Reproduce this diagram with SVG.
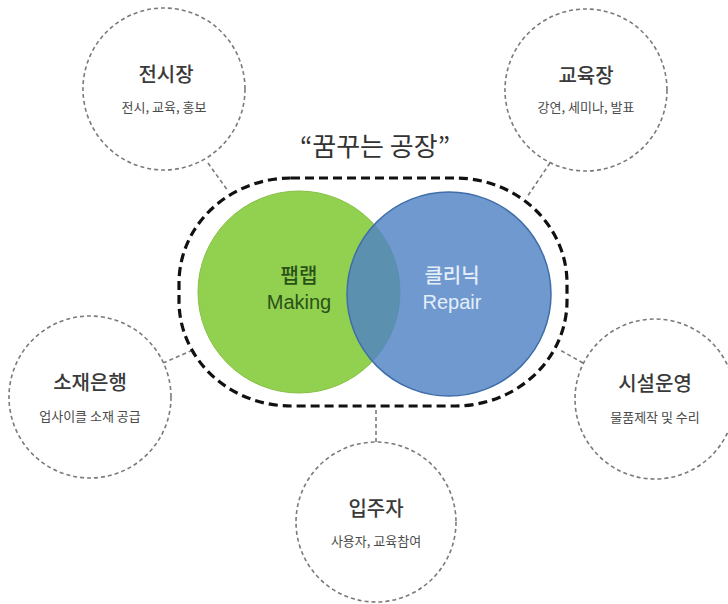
<svg xmlns="http://www.w3.org/2000/svg" width="728" height="604" viewBox="0 0 728 604">
<style>
.sat{fill:#fff;stroke:#7a7a7a;stroke-width:1.6;stroke-dasharray:4 3}
.con{fill:none;stroke:#7a7a7a;stroke-width:1.6;stroke-dasharray:4 3}
.t1{font-family:"Noto Sans CJK KR","Noto Sans",sans-serif;font-size:20px;font-weight:500;fill:#3a3a3a;text-anchor:middle}
.t2{font-family:"Noto Sans CJK KR","Noto Sans",sans-serif;font-size:13px;fill:#4a4a4a;text-anchor:middle}
.ctr{font-family:"Liberation Sans","Noto Sans CJK KR",sans-serif;font-size:20px;text-anchor:middle}
</style>
<rect width="728" height="604" fill="#fff"/>
<g id="connectors">
<line class="con" x1="208" y1="163" x2="228" y2="191"/>
<line class="con" x1="550" y1="163" x2="527" y2="197"/>
<line class="con" x1="163" y1="363" x2="193" y2="350"/>
<line class="con" x1="583" y1="363" x2="560" y2="350"/>
<line class="con" x1="376" y1="410" x2="376" y2="442"/>
</g>
<g id="title">
<text x="375" y="156" font-family="Noto Sans CJK KR,sans-serif" font-size="26" fill="#333" text-anchor="middle">“꿈꾸는 공장”</text>
</g>
<g id="factory">
<rect x="179" y="178" width="388" height="228" rx="112" ry="105" fill="none" stroke="#111" stroke-width="3.2" stroke-dasharray="9 5"/>
</g>
<g id="fablab">
<circle cx="299" cy="292" r="101" fill="#92d050" stroke="#86c046" stroke-width="1"/>
</g>
<g id="clinic">
<circle cx="449" cy="294" r="102" fill="#4f82c4" fill-opacity="0.82" stroke="#3f6ea8" stroke-width="1.5"/>
</g>
<g id="fablab-label">
<text class="ctr" x="299" y="283" fill="#2a5218" font-family="Noto Sans CJK KR,sans-serif" font-size="18" font-weight="500">팹랩</text>
<text class="ctr" x="299" y="309" fill="#2a5218">Making</text>
</g>
<g id="clinic-label">
<text class="ctr" x="452" y="283" fill="#e4eefa" font-family="Noto Sans CJK KR,sans-serif" font-size="18" font-weight="500">클리닉</text>
<text class="ctr" x="452" y="309" fill="#e4eefa">Repair</text>
</g>
<g id="n-exhibit">
<circle class="sat" cx="164" cy="89" r="81"/>
<text class="t1" x="166" y="82">전시장</text>
<text class="t2" x="164" y="112">전시, 교육, 홍보</text>
</g>
<g id="n-edu">
<circle class="sat" cx="586" cy="90" r="81"/>
<text class="t1" x="586" y="83">교육장</text>
<text class="t2" x="586" y="112">강연, 세미나, 발표</text>
</g>
<g id="n-bank">
<circle class="sat" cx="90" cy="397" r="81"/>
<text class="t1" x="90" y="390">소재은행</text>
<text class="t2" x="90" y="421">업사이클 소재 공급</text>
</g>
<g id="n-ops">
<circle class="sat" cx="655" cy="399" r="80"/>
<text class="t1" x="655" y="391">시설운영</text>
<text class="t2" x="655" y="422">물품제작 및 수리</text>
</g>
<g id="n-tenant">
<circle class="sat" cx="376" cy="522" r="80"/>
<text class="t1" x="376" y="516">입주자</text>
<text class="t2" x="376" y="546">사용자, 교육참여</text>
</g>
</svg>
